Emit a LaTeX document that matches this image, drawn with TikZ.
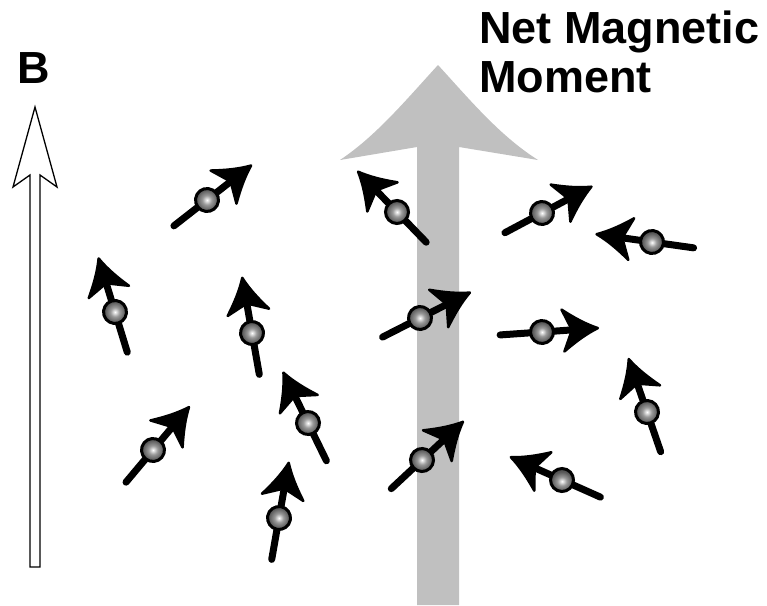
\documentclass[tikz,border=0pt]{standalone}
\usepackage{fontspec}
\setmainfont{Liberation Sans}
\definecolor{arrowgray}{RGB}{192,192,192}
\pgfdeclareradialshading{spinball}{\pgfpoint{0bp}{0bp}}{color(0bp)=(white); color(9bp)=(black!40); color(20bp)=(black!65); color(25bp)=(black!70); color(50bp)=(black!70)}
\tikzset{
  spin/.pic={
    \draw[line width=7pt, line cap=round] (-42,0) -- (34,0);
    \filldraw[line width=2.5pt, line join=round] (56,0) .. controls (44,5) and (33,12) .. (21,21) -- (30,0) -- (21,-21) .. controls (33,-12) and (44,-5) .. (56,0) -- cycle;
    \shadedraw[shading=spinball, line width=3pt] (0,0) circle[radius=11.5pt];
  },
  label/.style={font=\fontsize{45}{45}\selectfont\bfseries, inner sep=0pt, anchor=base west}
}
\begin{document}
\begin{tikzpicture}[x=1pt,y=-1pt]
\useasboundingbox[fill=white] (0,0) rectangle (767,605);
% net magnetic moment arrow
\fill[arrowgray] (438,65) .. controls (470,100) and (500,136) .. (538,160) -- (459,147) -- (459,605) -- (417,605) -- (417,147) -- (340,160) .. controls (376,136) and (406,100) .. (438,65) -- cycle;
% B field arrow
\draw[line width=1.3pt, fill=white, line join=miter] (35,107) -- (57,187) -- (40,175) -- (40,567) -- (30,567) -- (30,175) -- (13,187) -- cycle;
\node[label] (blabel) at (17,83) {B};
\node[label] (title1) at (479,43) {Net Magnetic};
\node[label] (title2) at (479,92) {Moment};
% spins
\pic[rotate=38]  at (207,200) {spin};
\pic[rotate=134] at (397,212) {spin};
\pic[rotate=28]  at (542,213) {spin};
\pic[rotate=172] at (652,242) {spin};
\pic[rotate=107] at (115,312) {spin};
\pic[rotate=100] at (252,333) {spin};
\pic[rotate=27]  at (420,318) {spin};
\pic[rotate=4]   at (542,332) {spin};
\pic[rotate=50]  at (153,450) {spin};
\pic[rotate=116] at (308,423) {spin};
\pic[rotate=43]  at (422,460) {spin};
\pic[rotate=156] at (562,480) {spin};
\pic[rotate=80]  at (279,518) {spin};
\pic[rotate=109] at (647,412) {spin};
\end{tikzpicture}
\end{document}
